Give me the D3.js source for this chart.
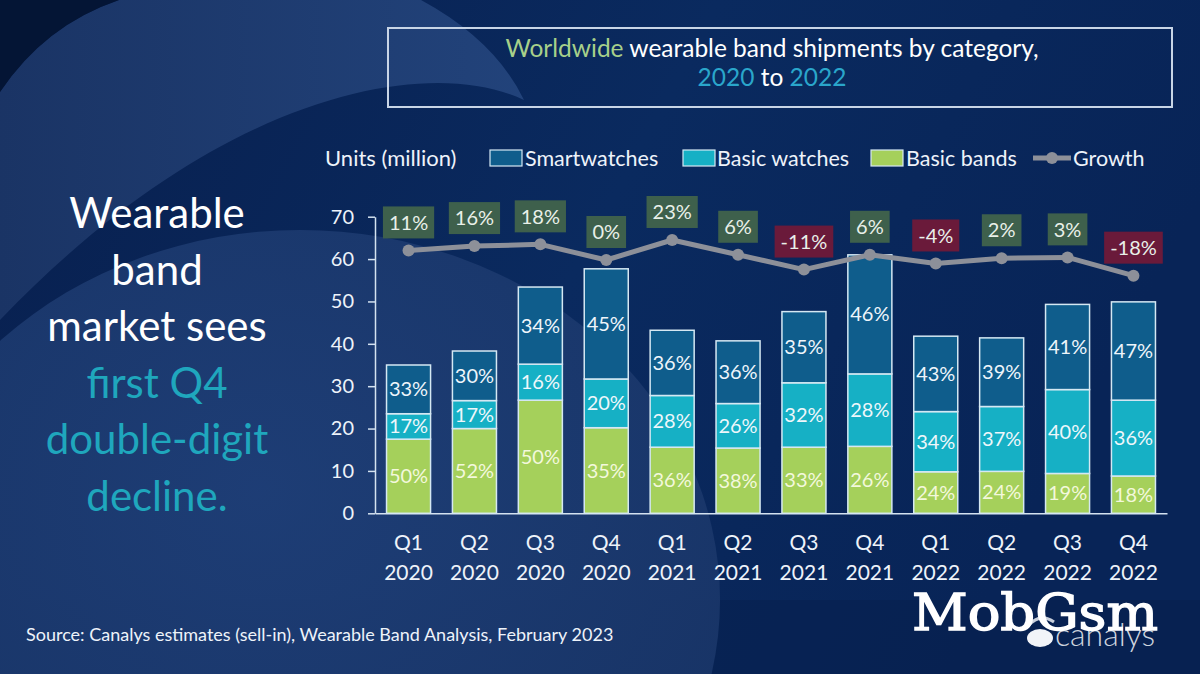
<!DOCTYPE html>
<html>
<head>
<meta charset="utf-8">
<script src="https://cdn.jsdelivr.net/npm/d3@7"></script>
<style>
  html, body { margin: 0; padding: 0; background: #0a2a60; }
  svg { display: block; }
</style>
</head>
<body>
<svg id="chart" width="1200" height="674" font-family="Lato, 'Open Sans', sans-serif"></svg>
<script>
// ---------------- DATA ----------------
const quarters = ["Q1", "Q2", "Q3", "Q4", "Q1", "Q2", "Q3", "Q4", "Q1", "Q2", "Q3", "Q4"];
const years = ["2020", "2020", "2020", "2020", "2021", "2021", "2021", "2021", "2022", "2022", "2022", "2022"];
// Units (million)
const basicBands   = [17.5, 20.0, 26.7, 20.2, 15.6, 15.4, 15.6, 15.8, 9.8, 9.9, 9.4, 8.8];
const basicWatches = [6.0, 6.6, 8.5, 11.5, 12.2, 10.5, 15.2, 17.1, 14.2, 15.3, 19.8, 17.9];
const smartwatches = [11.5, 11.7, 18.2, 26.0, 15.4, 14.8, 16.8, 28.1, 17.8, 16.2, 20.1, 23.2];
// share labels as printed
const bandShare  = ["50%", "52%", "50%", "35%", "36%", "38%", "33%", "26%", "24%", "24%", "19%", "18%"];
const watchShare = ["17%", "17%", "16%", "20%", "28%", "26%", "32%", "28%", "34%", "37%", "40%", "36%"];
const smartShare = ["33%", "30%", "34%", "45%", "36%", "36%", "35%", "46%", "43%", "39%", "41%", "47%"];
// year-on-year growth (%)
const growth = [11, 16, 18, 0, 23, 6, -11, 6, -4, 2, 3, -18];
const yTicks = [0, 10, 20, 30, 40, 50, 60, 70];
const seriesNames = ["Smartwatches", "Basic watches", "Basic bands", "Growth"];

// ---------------- SETUP ----------------
const svg = d3.select("#chart");
const W = 1200, H = 674;
const defs = svg.append("defs");

const bgGrad = defs.append("linearGradient").attr("id", "bg").attr("x1", 0).attr("y1", 0).attr("x2", 1).attr("y2", 0.3);
bgGrad.append("stop").attr("offset", 0).attr("stop-color", "#081f4e");
bgGrad.append("stop").attr("offset", 0.55).attr("stop-color", "#0a2a5f");
bgGrad.append("stop").attr("offset", 1).attr("stop-color", "#082457");

const circGrad = defs.append("radialGradient").attr("id", "circ").attr("cx", 0.45).attr("cy", 0.35).attr("r", 0.7);
circGrad.append("stop").attr("offset", 0).attr("stop-color", "#21417a");
circGrad.append("stop").attr("offset", 1).attr("stop-color", "#1a3668");

const cresGrad = defs.append("linearGradient").attr("id", "cres").attr("x1", 0).attr("y1", 0).attr("x2", 1).attr("y2", 0);
cresGrad.append("stop").attr("offset", 0).attr("stop-color", "#1b3566");
cresGrad.append("stop").attr("offset", 1).attr("stop-color", "#23447c");

// background
svg.append("rect").attr("width", W).attr("height", H).attr("fill", "url(#bg)");
svg.append("rect").attr("x", 0).attr("y", 600).attr("width", W).attr("height", 74).attr("fill", "#061c48").attr("opacity", 0.35);
svg.append("ellipse").attr("cx", 300).attr("cy", 600).attr("rx", 420).attr("ry", 370)
  .attr("fill", "url(#circ)").attr("opacity", 0.85);
svg.append("path")
  .attr("d", "M0,92 Q45,25 119,0 L421,0 Q495,40 524,100 C430,55 220,90 0,320 Z")
  .attr("fill", "url(#cres)").attr("opacity", 0.95);
svg.append("path").attr("d", "M0,0 L119,0 Q45,25 0,92 Z").attr("fill", "#041535");

// ---------------- TITLE BOX ----------------
svg.append("rect").attr("x", 388).attr("y", 28).attr("width", 784).attr("height", 79)
  .attr("fill", "none").attr("stroke", "#c8d5e6").attr("stroke-width", 2);
const t1 = svg.append("text").attr("x", 772).attr("y", 57).attr("text-anchor", "middle")
  .attr("font-size", 24.5).attr("fill", "#ffffff");
t1.append("tspan").attr("fill", "#a7d08a").text("Worldwide");
t1.append("tspan").text(" wearable band shipments by category,");
const t2 = svg.append("text").attr("x", 772).attr("y", 86).attr("text-anchor", "middle")
  .attr("font-size", 24.5).attr("fill", "#ffffff");
t2.append("tspan").attr("fill", "#2aa6cb").text("2020");
t2.append("tspan").text(" to ");
t2.append("tspan").attr("fill", "#2aa6cb").text("2022");

// ---------------- LEFT HEADLINE ----------------
const headLines = [
  ["Wearable", "#ffffff"], ["band", "#ffffff"], ["market sees", "#ffffff"],
  ["first Q4", "#1fa7bd"], ["double-digit", "#1fa7bd"], ["decline.", "#1fa7bd"]
];
svg.append("g").selectAll("text").data(headLines).join("text")
  .attr("x", 157).attr("y", (d, i) => 228 + i * 56.5)
  .attr("text-anchor", "middle").attr("font-size", 42)
  .attr("fill", d => d[1]).text(d => d[0]);

// ---------------- SCALES ----------------
const x = d3.scaleBand().domain(d3.range(quarters.length)).range([375, 1167])
  .paddingInner(0.332).paddingOuter(0.175);
const y = d3.scaleLinear().domain([0, 70]).range([513.3, 216.7]);
const gy = d3.scaleLinear().domain([-20, 25]).range([277.4, 238.25]);

// ---------------- AXES ----------------
const yAxis = svg.append("g").attr("transform", "translate(375,0)")
  .call(d3.axisLeft(y).tickValues(yTicks).tickSize(7).tickSizeOuter(0).tickPadding(14));
yAxis.attr("font-family", null);
yAxis.select(".domain").attr("stroke", "#d4e2f0").attr("stroke-width", 1.5);
yAxis.selectAll(".tick line").attr("stroke", "#d4e2f0").attr("stroke-width", 1.5);
yAxis.selectAll(".tick text").attr("font-size", 20).attr("fill", "#eef3fa");

const xAxis = svg.append("g").attr("transform", `translate(0,${y(0)})`)
  .call(d3.axisBottom(x).tickSize(0).tickSizeOuter(0).tickPadding(0).tickFormat(""));
xAxis.attr("font-family", null);
xAxis.select(".domain").attr("stroke", "#d4e2f0").attr("stroke-width", 1.5);
xAxis.selectAll(".tick").each(function(d) {
  const t = d3.select(this).append("text").attr("text-anchor", "middle")
    .attr("font-size", 21).attr("fill", "#eef3fa");
  t.append("tspan").attr("x", 0).attr("y", 37).text(quarters[d]);
  t.append("tspan").attr("x", 0).attr("y", 67).text(years[d]);
});

// ---------------- BARS ----------------
const layers = [
  { vals: basicBands, labels: bandShare, fill: "#a5d05b", txt: "#f3f8dc" },
  { vals: basicWatches, labels: watchShare, fill: "#16b0c5", txt: "#eef7fb" },
  { vals: smartwatches, labels: smartShare, fill: "#0f5d8c", txt: "#eef5fb" }
];
const barG = svg.append("g");
const labelG = svg.append("g");
const bw = x.bandwidth();
quarters.forEach((q, i) => {
  let base = 0;
  layers.forEach(L => {
    const v = L.vals[i];
    const y0 = y(base), y1 = y(base + v);
    barG.append("rect").attr("x", x(i)).attr("y", y1).attr("width", bw).attr("height", y0 - y1)
      .attr("fill", L.fill).attr("stroke", "#d5e8f3").attr("stroke-width", 1.5);
    labelG.append("text").attr("x", x(i) + bw / 2).attr("y", (y0 + y1) / 2)
      .attr("dy", "0.35em").attr("text-anchor", "middle").attr("font-size", 20)
      .attr("fill", L.txt).text(L.labels[i]);
    base += v;
  });
});

// ---------------- GROWTH LINE ----------------
const line = d3.line().x((d, i) => x(i) + bw / 2).y(d => gy(d));
svg.append("path").datum(growth).attr("d", line).attr("fill", "none")
  .attr("stroke", "#8d9099").attr("stroke-width", 5).attr("stroke-linejoin", "round");
svg.append("g").selectAll("circle").data(growth).join("circle")
  .attr("cx", (d, i) => x(i) + bw / 2).attr("cy", d => gy(d)).attr("r", 6)
  .attr("fill", "#8d9099");

const gLab = svg.append("g").selectAll("g").data(growth).join("g")
  .attr("transform", (d, i) => `translate(${x(i) + bw / 2},${gy(d) - 28})`);
gLab.append("text").attr("text-anchor", "middle").attr("dy", "0.36em").attr("font-size", 20)
  .attr("fill", "#e9f0e9").text(d => d + "%")
  .each(function() {
    const bb = this.getBBox();
    d3.select(this.parentNode).insert("rect", "text")
      .attr("x", -bb.width / 2 - 6).attr("y", -16).attr("width", bb.width + 12).attr("height", 32)
      .attr("fill", d => d < 0 ? "#6a1a3a" : "#3e604c");
  });

// ---------------- LEGEND ----------------
const legY = 158;
svg.append("text").attr("x", 325).attr("y", legY).attr("dy", "0.35em").attr("font-size", 22)
  .attr("fill", "#eef3fa").text("Units (million)");
const legItems = [
  { name: seriesNames[0], fill: "#0f5d8c", sx: 490, tx: 525 },
  { name: seriesNames[1], fill: "#16b0c5", sx: 683, tx: 717 },
  { name: seriesNames[2], fill: "#a5d05b", sx: 871, tx: 906 }
];
legItems.forEach(d => {
  svg.append("rect").attr("x", d.sx).attr("y", legY - 8).attr("width", 32).attr("height", 16)
    .attr("fill", d.fill).attr("stroke", "#d5e8f3").attr("stroke-width", 1.2);
  svg.append("text").attr("x", d.tx).attr("y", legY).attr("dy", "0.35em").attr("font-size", 21.5)
    .attr("fill", "#eef3fa").text(d.name);
});
svg.append("line").attr("x1", 1033).attr("x2", 1071).attr("y1", legY).attr("y2", legY)
  .attr("stroke", "#8d9099").attr("stroke-width", 5);
svg.append("circle").attr("cx", 1052).attr("cy", legY).attr("r", 6).attr("fill", "#8d9099");
svg.append("text").attr("x", 1073).attr("y", legY).attr("dy", "0.35em").attr("font-size", 21.5)
  .attr("fill", "#eef3fa").text(seriesNames[3]);

// ---------------- FOOTER ----------------
svg.append("text").attr("x", 26).attr("y", 641).attr("font-size", 18).attr("fill", "#eef3fa")
  .text("Source:  Canalys estimates (sell-in), Wearable Band Analysis, February 2023");
// canalys logo
svg.append("ellipse").attr("cx", 1040).attr("cy", 638).attr("rx", 13).attr("ry", 9).attr("fill", "#f2f4f8");
svg.append("path").attr("d", "M1028,626 Q1040,612 1054,622").attr("fill", "none")
  .attr("stroke", "#c9d0dc").attr("stroke-width", 3);
svg.append("text").attr("x", 1055).attr("y", 646).attr("font-size", 32).attr("font-weight", 300)
  .attr("fill", "#cdd4de").text("canalys");
// watermark
svg.append("text").attr("x", 912).attr("y", 630).attr("font-size", 50)
  .style("font-family", "'DejaVu Serif', 'Liberation Serif', serif")
  .attr("fill", "#ffffff").attr("stroke", "#ffffff").attr("stroke-width", 1.4)
  .attr("textLength", 246).attr("lengthAdjust", "spacingAndGlyphs").text("MobGsm");
</script>
</body>
</html>
